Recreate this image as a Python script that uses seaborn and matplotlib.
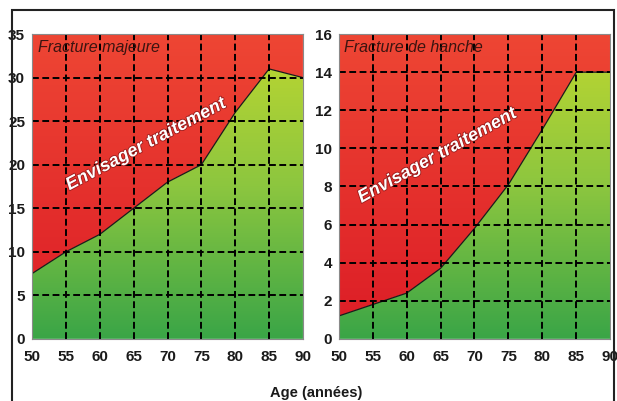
import numpy as np
import matplotlib.pyplot as plt
import matplotlib.patheffects as pe
import seaborn as sns
from matplotlib.colors import LinearSegmentedColormap
from matplotlib.patches import Polygon, Rectangle

# --- données (seuils d'intervention, % probabilité à 10 ans) ---
ages = [50, 55, 60, 65, 70, 75, 80, 85, 90]
seuil_majeure = [7.5, 10, 12, 15, 18, 20, 26, 31, 30]
seuil_hanche = [1.2, 1.8, 2.4, 3.7, 5.8, 8.1, 11, 14, 14]
titres = ["Fracture majeure", "Fracture de hanche"]
y_max = [35, 16]
y_pas = [5, 2]
label_zone = "Envisager traitement"
xlabel = "Age (années)"

sns.set_theme(style="white")
plt.rcParams['font.family'] = ['Liberation Sans', 'DejaVu Sans']

rouge = LinearSegmentedColormap.from_list("rouge", ["#dc1c26", "#ee4634"])
vert = LinearSegmentedColormap.from_list("vert", ["#3aa547", "#8cc63f", "#bfd730"])

fig = plt.figure(figsize=(6.17, 4.01), dpi=100)
positions = [[0.052, 0.155, 0.439, 0.760], [0.549, 0.155, 0.440, 0.760]]
textes = [(66.8, 22.3, 28), (64.5, 9.6, 29)]
gradient = np.linspace(0, 1, 256).reshape(-1, 1)

for i, seuils in enumerate([seuil_majeure, seuil_hanche]):
    ax = fig.add_axes(positions[i])
    ymax = y_max[i]
    pts = list(zip(ages, seuils))

    haut = Polygon(pts + [(ages[-1], ymax), (ages[0], ymax)], closed=True,
                   facecolor="none", edgecolor="none", transform=ax.transData)
    bas = Polygon(pts + [(ages[-1], 0), (ages[0], 0)], closed=True,
                  facecolor="none", edgecolor="none", transform=ax.transData)
    ax.add_patch(haut)
    ax.add_patch(bas)
    im_r = ax.imshow(gradient, extent=[ages[0], ages[-1], 0, ymax], origin="lower",
                     aspect="auto", cmap=rouge, zorder=0)
    im_r.set_clip_path(haut)
    im_v = ax.imshow(gradient, extent=[ages[0], ages[-1], 0, ymax], origin="lower",
                     aspect="auto", cmap=vert, zorder=0)
    im_v.set_clip_path(bas)

    sns.lineplot(x=ages, y=seuils, color="#1a1a1a", linewidth=0.9, ax=ax, zorder=1)

    # grille noire en tirets par-dessus les zones
    for x in ages[1:-1]:
        ax.axvline(x, color="black", linestyle=(0, (3.5, 1.8)), linewidth=1.4, zorder=2)
    for y in np.arange(y_pas[i], ymax, y_pas[i]):
        ax.axhline(y, color="black", linestyle=(0, (3.5, 1.8)), linewidth=1.4, zorder=2)

    ax.set_xlim(ages[0], ages[-1])
    ax.set_ylim(0, ymax)
    ax.set_xticks(ages)
    ax.set_yticks(np.arange(0, ymax + 1, y_pas[i]))
    ax.tick_params(length=0, labelsize=11, colors="#1a1a1a")
    ax.tick_params(axis="x", pad=8)
    ax.tick_params(axis="y", pad=5)
    for lab in ax.get_xticklabels() + ax.get_yticklabels():
        lab.set_fontweight("bold")
    for s in ax.spines.values():
        s.set_color("#8a8a8a")
        s.set_linewidth(0.8)

    ax.text(0.02, 0.98, titres[i], transform=ax.transAxes, ha="left", va="top",
            fontsize=11.5, style="italic", color="#3b1410", zorder=3)
    tx, ty, rot = textes[i]
    ax.text(tx, ty, label_zone, ha="center", va="center", rotation=rot,
            fontsize=13, fontweight="bold", style="italic", color="white", zorder=3,
            path_effects=[pe.withStroke(linewidth=1.2, foreground="#9a1a1a")])

fig.text(316 / 617, 1 - 393 / 401, xlabel, ha="center", va="center",
         fontsize=10.5, fontweight="bold", color="#1a1a1a")

fig.add_artist(Rectangle((12 / 617, -0.1), (614 - 12) / 617, 1.1 - 10 / 401,
                         fill=False, edgecolor="#222222", linewidth=1.5,
                         transform=fig.transFigure))

fig.savefig("out.png", dpi=100)
